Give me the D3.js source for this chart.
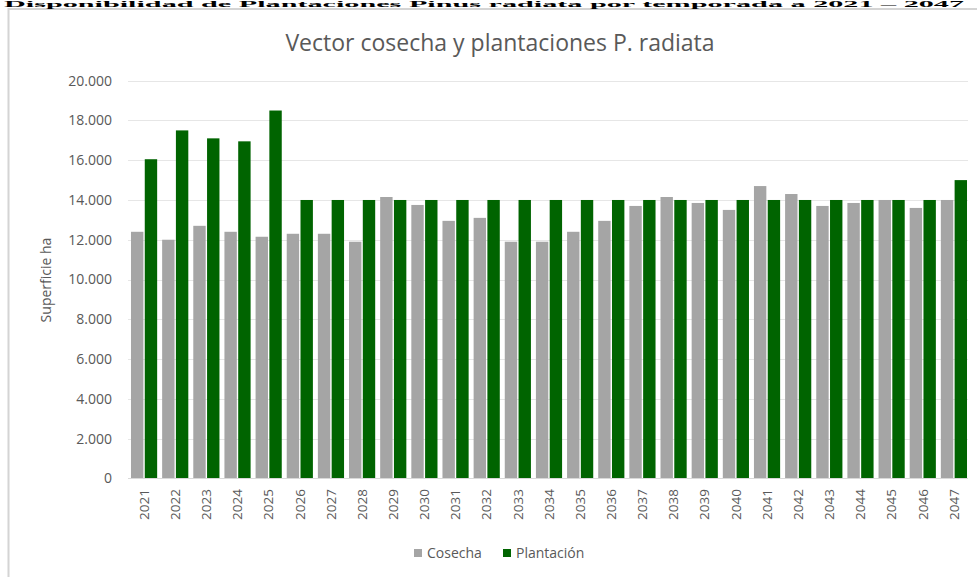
<!DOCTYPE html>
<html>
<head>
<meta charset="utf-8">
<script src="https://cdn.jsdelivr.net/npm/d3@7"></script>
<style>
  html, body { margin: 0; padding: 0; background: #fff; }
  svg { display: block; }
</style>
</head>
<body>
<svg id="chart" width="977" height="577"></svg>
<script>
const years = ["2021","2022","2023","2024","2025","2026","2027","2028","2029","2030","2031","2032","2033","2034","2035","2036","2037","2038","2039","2040","2041","2042","2043","2044","2045","2046","2047"];
const cosecha = [12400,12000,12700,12400,12150,12300,12300,11900,14150,13750,12950,13100,11900,11900,12400,12950,13700,14150,13850,13500,14700,14300,13700,13850,14000,13600,14000];
const plantacion = [16050,17500,17100,16950,18500,14000,14000,14000,14000,14000,14000,14000,14000,14000,14000,14000,14000,14000,14000,14000,14000,14000,14000,14000,14000,14000,15000];
const yTicks = [0,2000,4000,6000,8000,10000,12000,14000,16000,18000,20000];
const seriesNames = ["Cosecha","Plantación"];
const seriesColors = ["#a5a5a5","#006400"];
const chartTitle = "Vector cosecha y plantaciones P. radiata";
const yTitle = "Superficie ha";
const headerText = "Disponibilidad de Plantaciones Pinus radiata por temporada a 2021 – 2047";

const svg = d3.select("#chart");
const font = "'Open Sans', 'Liberation Sans', sans-serif";

// chart frame
svg.append("rect")
  .attr("x", 8.5).attr("y", 9).attr("width", 980).attr("height", 580)
  .attr("fill", "#fff").attr("stroke", "#d4d4d4").attr("stroke-width", 2);

// header text of the surrounding document
svg.append("text")
  .attr("x", 4).attr("y", 7)
  .attr("font-family", "'Liberation Serif', 'DejaVu Serif', serif")
  .attr("font-weight", "bold").attr("font-size", 9)
  .attr("textLength", 960).attr("lengthAdjust", "spacingAndGlyphs")
  .attr("fill", "#000")
  .text(headerText);

const x0 = d3.scaleBand().domain(years).range([128.5, 969.5]).paddingInner(0.16).paddingOuter(0.08);
const x1 = d3.scaleBand().domain(seriesNames).range([0, x0.bandwidth()]).paddingInner(0.1);
const y = d3.scaleLinear().domain([0, 20000]).range([478.3, 80.7]);

// gridlines
svg.append("g").selectAll("line").data(yTicks.filter(d => d > 0)).join("line")
  .attr("x1", 128).attr("x2", 968)
  .attr("y1", d => Math.round(y(d)) + 0.5).attr("y2", d => Math.round(y(d)) + 0.5)
  .attr("stroke", "#e6e6e6").attr("stroke-width", 1);

// y axis labels (Spanish number format)
const fmt = d3.formatLocale({decimal: ",", thousands: ".", grouping: [3], currency: ["", ""]}).format(",");
const yAxis = d3.axisLeft(y).tickValues(yTicks).tickFormat(fmt).tickSize(0).tickPadding(0);
const gy = svg.append("g").attr("transform", "translate(112,0)").call(yAxis);
gy.select(".domain").remove();
gy.selectAll("text").attr("font-family", font).attr("font-size", 14).attr("fill", "#595959");

// bars
const data = years.map((yr, i) => ({year: yr, vals: [cosecha[i], plantacion[i]]}));
const groups = svg.append("g").selectAll("g").data(data).join("g")
  .attr("transform", d => `translate(${x0(d.year)},0)`);
groups.selectAll("rect").data(d => d.vals.map((v, j) => ({name: seriesNames[j], v, j}))).join("rect")
  .attr("x", d => x1(d.name))
  .attr("width", x1.bandwidth())
  .attr("y", d => y(d.v))
  .attr("height", d => y(0) - y(d.v))
  .attr("fill", d => seriesColors[d.j]);

// baseline
svg.append("line").attr("x1", 128).attr("x2", 968)
  .attr("y1", 478.5).attr("y2", 478.5)
  .attr("stroke", "#d9d9d9").attr("stroke-width", 1);

// x axis labels
const xAxis = d3.axisBottom(x0).tickSize(0).tickPadding(0);
const gx = svg.append("g").attr("transform", "translate(0,489)").call(xAxis);
gx.select(".domain").remove();
gx.selectAll("text")
  .attr("font-family", font).attr("font-size", 13.5).attr("fill", "#595959")
  .attr("text-anchor", "end").attr("dy", "0.35em")
  .attr("transform", "rotate(-90)").attr("x", 0).attr("y", 0);

// titles
svg.append("text").attr("x", 500).attr("y", 51).attr("text-anchor", "middle")
  .attr("font-family", font).attr("font-size", 23).attr("fill", "#595959")
  .text(chartTitle);
svg.append("text").attr("transform", "translate(51,280) rotate(-90)").attr("text-anchor", "middle")
  .attr("font-family", font).attr("font-size", 14).attr("fill", "#595959")
  .text(yTitle);

// legend
const legend = svg.append("g");
const legX = [414, 503];
seriesNames.forEach((n, i) => {
  legend.append("rect").attr("x", legX[i]).attr("y", 549).attr("width", 8).attr("height", 8).attr("fill", seriesColors[i]);
  legend.append("text").attr("x", legX[i] + 13).attr("y", 553).attr("dy", "0.35em")
    .attr("font-family", font).attr("font-size", 14).attr("fill", "#595959").text(n);
});
</script>
</body>
</html>
